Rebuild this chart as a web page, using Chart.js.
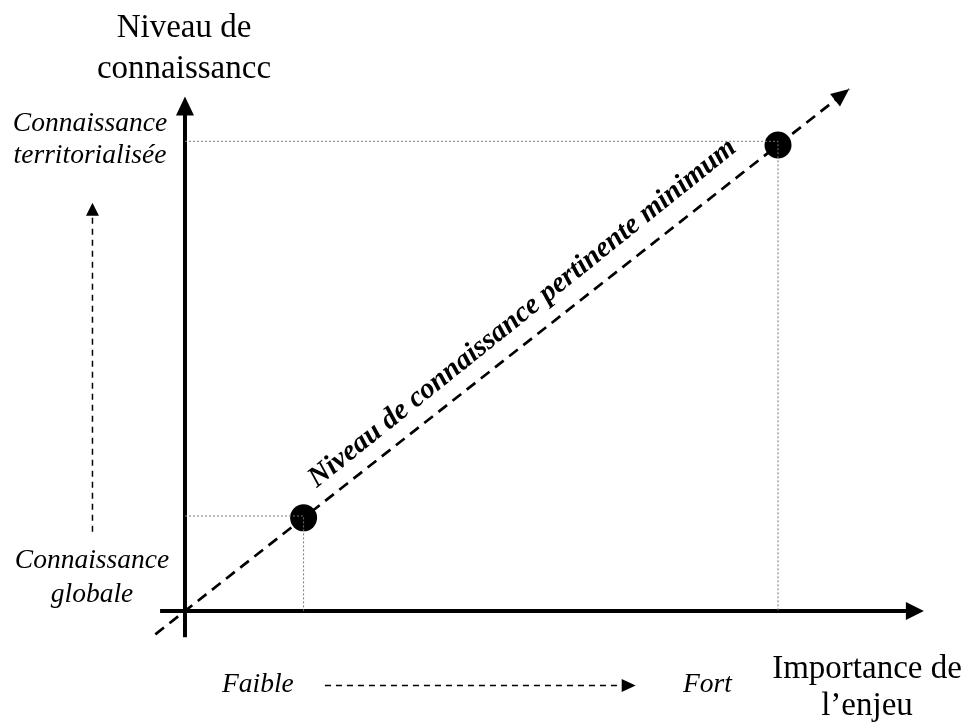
<!DOCTYPE html>
<html>
<head>
<meta charset="utf-8">
<script src="https://cdn.jsdelivr.net/npm/chart.js@4.4.1/dist/chart.umd.min.js"></script>
<style>
  html, body { margin: 0; padding: 0; background: #ffffff; }
  #wrap { width: 966px; height: 723px; }
</style>
</head>
<body>
<div id="wrap"><canvas id="c" width="966" height="723"></canvas></div>
<script>
// ---- Data (conceptual units) ----
const importance = [1, 5];          // Importance de l'enjeu (x) of the two points
const connaissance = [1, 5];        // Niveau de connaissance (y) of the two points
const diagonalX = [-0.25, 5.6];     // dashed "minimum" line, y = x
const diagonalY = [-0.25, 5.6];
const xAxisX = [-0.21, 6.23];       // horizontal axis extent (tip of arrow at end)
const yAxisY = [-0.28, 5.52];       // vertical axis extent (tip of arrow at end)
const leftArrowX = [-0.78, -0.78];  // dashed arrow beside the y axis
const leftArrowY = [0.85, 4.38];
const bottomArrowX = [1.18, 3.80];  // dashed arrow under the x axis
const bottomArrowY = [-0.80, -0.80];

const yTitle = ['Niveau de', 'connaissancc'];
const xTitle = ['Importance de', 'l\u2019enjeu'];
const yHighLabel = ['Connaissance', 'territorialisée'];
const yLowLabel = ['Connaissance', 'globale'];
const xLowLabel = 'Faible';
const xHighLabel = 'Fort';
const diagonalLabel = 'Niveau de connaissance pertinente minimum';
const diagonalLabelAt = 2.98;

const pts = importance.map((v, i) => ({ x: v, y: connaissance[i] }));
const guideHigh = [{ x: 0, y: connaissance[1] + 0.04 }, { x: importance[1], y: connaissance[1] + 0.04 }, { x: importance[1], y: connaissance[1] }, { x: importance[1], y: 0 }];
const guideLow = [{ x: 0, y: connaissance[0] + 0.02 }, { x: importance[0], y: connaissance[0] + 0.02 }, { x: importance[0], y: connaissance[0] }, { x: importance[0], y: 0 }];

function arrowHead(ctx, tx, ty, fx, fy, len, half) {
  const a = Math.atan2(ty - fy, tx - fx);
  ctx.save();
  ctx.translate(tx, ty);
  ctx.rotate(a);
  ctx.beginPath();
  ctx.moveTo(0, 0);
  ctx.lineTo(-len, -half);
  ctx.lineTo(-len, half);
  ctx.closePath();
  ctx.fillStyle = '#000';
  ctx.fill();
  ctx.restore();
}

const decor = {
  id: 'decor',
  afterDatasetsDraw(chart) {
    const ctx = chart.ctx;
    const xs = chart.scales.x, ys = chart.scales.y;
    const px = v => xs.getPixelForValue(v), py = v => ys.getPixelForValue(v);

    // axis arrowheads
    arrowHead(ctx, px(xAxisX[1]), py(0), px(xAxisX[0]), py(0), 18, 9);
    arrowHead(ctx, px(0), py(yAxisY[1]), px(0), py(yAxisY[0]), 19, 9);
    // diagonal arrowhead
    arrowHead(ctx, px(diagonalX[1]), py(diagonalY[1]), px(diagonalX[0]), py(diagonalY[0]), 18, 8);

    // small dashed arrows
    ctx.save();
    ctx.strokeStyle = '#000';
    ctx.lineWidth = 1.5;
    ctx.setLineDash([6, 5]);
    ctx.beginPath();
    ctx.moveTo(px(leftArrowX[0]), py(leftArrowY[0]));
    ctx.lineTo(px(leftArrowX[1]), py(leftArrowY[1]) + 10);
    ctx.stroke();
    ctx.beginPath();
    ctx.moveTo(px(bottomArrowX[0]), py(bottomArrowY[0]));
    ctx.lineTo(px(bottomArrowX[1]) - 10, py(bottomArrowY[1]));
    ctx.stroke();
    ctx.restore();
    arrowHead(ctx, px(leftArrowX[1]), py(leftArrowY[1]), px(leftArrowX[0]), py(leftArrowY[0]), 13, 6.5);
    arrowHead(ctx, px(bottomArrowX[1]), py(bottomArrowY[1]), px(bottomArrowX[0]), py(bottomArrowY[0]), 14, 6.5);

    // texts
    ctx.save();
    ctx.fillStyle = '#000';
    ctx.textBaseline = 'alphabetic';
    ctx.textAlign = 'center';
    ctx.font = '33px "Liberation Serif"';
    ctx.fillText(yTitle[0], 184, 37);
    ctx.fillText(yTitle[1], 184, 78);
    ctx.fillText(xTitle[0], 867, 678);
    ctx.fillText(xTitle[1], 867, 715);

    ctx.font = 'italic 27.5px "Liberation Serif"';
    ctx.fillText(yHighLabel[0], 90, 131);
    ctx.fillText(yHighLabel[1], 90, 163);
    ctx.fillText(yLowLabel[0], 92, 568);
    ctx.fillText(yLowLabel[1], 92, 602);
    ctx.textAlign = 'left';
    ctx.fillText(xLowLabel, 222, 692);
    ctx.fillText(xHighLabel, 683, 692);

    // rotated label along the diagonal
    const x0 = px(0), y0 = py(0), x1 = px(1), y1 = py(1);
    const ang = Math.atan2(y1 - y0, x1 - x0) - 0.01;
    ctx.translate(px(diagonalLabelAt), py(diagonalLabelAt));
    ctx.rotate(ang);
    ctx.translate(0, -18);
    ctx.textAlign = 'center';
    ctx.font = 'bold italic 29px "Liberation Serif"';
    ctx.fillText(diagonalLabel, 0, 0);
    ctx.restore();
  }
};

new Chart(document.getElementById('c'), {
  type: 'line',
  data: {
    datasets: [
      { data: guideHigh, borderColor: '#777', borderWidth: 1, borderDash: [2, 2], pointRadius: 0, fill: false, tension: 0 },
      { data: guideLow, borderColor: '#777', borderWidth: 1, borderDash: [2, 2], pointRadius: 0, fill: false, tension: 0 },
      { data: [{ x: xAxisX[0], y: 0 }, { x: xAxisX[1] - 0.13, y: 0 }], borderColor: '#000', borderWidth: 4, pointRadius: 0, borderCapStyle: 'butt' },
      { data: [{ x: 0, y: yAxisY[0] }, { x: 0, y: yAxisY[1] - 0.18 }], borderColor: '#000', borderWidth: 4, pointRadius: 0, borderCapStyle: 'butt' },
      { data: diagonalX.map((v, i) => ({ x: v, y: diagonalY[i] })), borderColor: '#000', borderWidth: 2.7, borderDash: [11, 7], pointRadius: 0, borderCapStyle: 'butt' },
      { data: pts, showLine: false, pointRadius: 13.5, pointBackgroundColor: '#000', pointBorderColor: '#000', pointBorderWidth: 0 }
    ]
  },
  options: {
    responsive: false,
    devicePixelRatio: 1,
    animation: false,
    clip: false,
    layout: { padding: { left: 149.4, right: 33.8, top: 79.8, bottom: 84 } },
    plugins: { legend: { display: false }, tooltip: { enabled: false } },
    scales: {
      x: { type: 'linear', min: -0.3, max: 6.3, display: false },
      y: { type: 'linear', min: -0.3, max: 5.7, display: false }
    },
    events: []
  },
  plugins: [decor]
});
</script>
</body>
</html>
